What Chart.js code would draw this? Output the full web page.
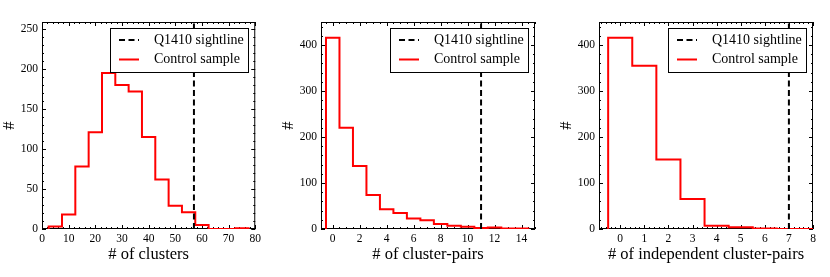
<!DOCTYPE html>
<html>
<head>
<meta charset="utf-8">
<script src="https://cdn.jsdelivr.net/npm/chart.js@4.4.1/dist/chart.umd.min.js"></script>
<style>
  body { margin: 0; background: #fff; }
  .wrap { position: relative; width: 830px; height: 277px; }
  .wrap canvas { position: absolute; top: 0; }
</style>
</head>
<body>
<div class="wrap">
  <canvas id="chart1" width="264" height="277" style="left:0px"></canvas>
  <canvas id="chart2" width="264" height="277" style="left:279px"></canvas>
  <canvas id="chart3" width="264" height="277" style="left:557px"></canvas>
</div>
<script>
// histogram bin edges and counts
const clusterEdges = [2.5, 7.5, 12.5, 17.5, 22.5, 27.5, 32.5, 37.5, 42.5, 47.5, 52.5, 57.5, 62.5, 67.5, 72.5, 77.5];
const clusterCounts = [3, 18, 78, 121, 195, 180, 172, 115, 62, 29, 21, 5, 0, 0, 1];

const pairEdges = [-0.5, 0.5, 1.5, 2.5, 3.5, 4.5, 5.5, 6.5, 7.5, 8.5, 9.5, 10.5, 11.5, 12.5, 13.5, 14.5];
const pairCounts = [416, 220, 137, 74, 43, 35, 23, 19, 11, 7, 5, 2, 3, 1, 1];

const indepEdges = [-0.5, 0.5, 1.5, 2.5, 3.5, 4.5, 5.5, 6.5, 7.5, 8.5];
const indepCounts = [416, 355, 151, 65, 7, 4, 1, 0, 0];

// Q1410 sightline values
const q1410Clusters = 57;
const q1410Pairs = 11;
const q1410Indep = 7;

const legendLabels = ['Q1410 sightline', 'Control sample'];

const serif = 'Liberation Serif';

// major ticks at every multiple of step inside [min, max]
function majorTicks(s, step) {
    const out = [];
    for (let k = Math.ceil(s.min / step - 1e-9); k * step <= s.max + 1e-9; k++) {
        out.push({value: Math.round(k * step * 1e6) / 1e6});
    }
    s.ticks = out;
}

// frame + inward ticks on all four sides, matplotlib style
const frameTicks = {
    id: 'frameTicks',
    beforeDatasetsDraw(chart, args, opts) {
        const ctx = chart.ctx;
        const a = chart.chartArea;
        const xs = chart.scales.x, ys = chart.scales.y;
        ctx.save();
        ctx.strokeStyle = '#000';
        ctx.lineWidth = 1;
        ctx.strokeRect(a.left + 0.5, a.top + 0.5, a.right - a.left - 1, a.bottom - a.top - 1);
        ctx.beginPath();
        const xStep = opts.xStep, yStep = opts.yStep;
        const xm = xStep / opts.xMinor, ym = yStep / opts.yMinor;
        for (let k = Math.ceil(xs.min / xm - 1e-9); k * xm <= xs.max + 1e-9; k++) {
            const v = k * xm;
            const p = Math.round(xs.getPixelForValue(v)) + 0.5;
            const len = (k % opts.xMinor === 0) ? 4 : 2;
            ctx.moveTo(p, a.bottom); ctx.lineTo(p, a.bottom - len);
            ctx.moveTo(p, a.top); ctx.lineTo(p, a.top + len);
        }
        for (let k = Math.ceil(ys.min / ym - 1e-9); k * ym <= ys.max + 1e-9; k++) {
            const v = k * ym;
            const p = Math.round(ys.getPixelForValue(v)) + 0.5;
            const len = (k % opts.yMinor === 0) ? 4 : 2;
            ctx.moveTo(a.left, p); ctx.lineTo(a.left + len, p);
            ctx.moveTo(a.right, p); ctx.lineTo(a.right - len, p);
        }
        ctx.stroke();
        ctx.restore();
    }
};

// boxed legend in the upper right of the plot
const boxLegend = {
    id: 'boxLegend',
    afterDraw(chart) {
        const ctx = chart.ctx;
        const a = chart.chartArea;
        const w = 138, h = 44;
        const x = Math.round(a.right - 7 - w), y = Math.round(a.top + 6);
        ctx.save();
        ctx.fillStyle = '#fff';
        ctx.fillRect(x, y, w, h);
        ctx.strokeStyle = '#000';
        ctx.lineWidth = 1;
        ctx.strokeRect(x + 0.5, y + 0.5, w, h);
        chart.data.datasets.forEach(function (ds, i) {
            const ly = y + 12 + i * 19.5;
            ctx.beginPath();
            ctx.strokeStyle = ds.borderColor;
            ctx.lineWidth = 2;
            ctx.setLineDash(ds.borderDash || []);
            ctx.moveTo(x + 9, ly);
            ctx.lineTo(x + 29, ly);
            ctx.stroke();
            ctx.setLineDash([]);
            ctx.fillStyle = '#000';
            ctx.font = '14px "' + serif + '"';
            ctx.textBaseline = 'middle';
            ctx.fillText(ds.label, x + 44, ly);
        });
        ctx.restore();
    }
};

function stepPoints(edges, counts) {
    const pts = [{x: edges[0], y: 0}];
    counts.forEach(function (c, i) { pts.push({x: edges[i], y: c}); });
    pts.push({x: edges[edges.length - 1], y: 0});
    return pts;
}

function show_hist(id, edges, counts, q, xMin, xMax, xStep, xMinor, yMax, yStep, xTitle) {
    const data = {
        datasets: [
            {
                label: legendLabels[0],
                data: [{x: q, y: 0}, {x: q, y: yMax}],
                borderColor: '#000',
                borderWidth: 2,
                borderDash: [6, 3.5],
                pointRadius: 0
            },
            {
                label: legendLabels[1],
                data: stepPoints(edges, counts),
                borderColor: 'rgb(255, 0, 0)',
                borderWidth: 2,
                stepped: 'before',
                pointRadius: 0
            }
        ]
    };

    const tickFont = {family: serif, size: 11.5};
    const titleFont = {family: serif, size: 16.5};

    const config = {
        type: 'line',
        data: data,
        options: {
            responsive: false,
            animation: false,
            devicePixelRatio: 1,
            layout: {
                padding: {left: 0, right: 8, top: 22, bottom: 12}
            },
            scales: {
                x: {
                    type: 'linear',
                    min: xMin,
                    max: xMax,
                    grid: {display: false, drawTicks: false},
                    border: {display: false},
                    afterFit: function (s) { s.height = 36; },
                    afterBuildTicks: function (s) { majorTicks(s, xStep); },
                    ticks: {
                        color: '#000',
                        font: tickFont,
                        padding: 3,
                        maxRotation: 0,
                        autoSkip: false
                    },
                    title: {
                        display: true,
                        text: xTitle,
                        color: '#000',
                        font: titleFont,
                        padding: 0
                    }
                },
                y: {
                    type: 'linear',
                    min: 0,
                    max: yMax,
                    grid: {display: false, drawTicks: false},
                    border: {display: false},
                    afterFit: function (s) { s.width = 42; },
                    afterBuildTicks: function (s) { majorTicks(s, yStep); },
                    ticks: {
                        color: '#000',
                        font: tickFont,
                        padding: 4,
                        autoSkip: false
                    },
                    title: {
                        display: true,
                        text: '#',
                        color: '#000',
                        font: titleFont,
                        padding: 0
                    }
                }
            },
            plugins: {
                legend: {display: false},
                tooltip: {enabled: false},
                frameTicks: {xStep: xStep, xMinor: xMinor, yStep: yStep, yMinor: 5}
            }
        },
        plugins: [frameTicks, boxLegend]
    };

    return new Chart(document.getElementById(id), config);
}

show_hist('chart1', clusterEdges, clusterCounts, q1410Clusters, 0, 80, 10, 5, 258.75, 50, '# of clusters');
show_hist('chart2', pairEdges, pairCounts, q1410Pairs, -0.87, 15, 2, 4, 450, 100, '# of cluster-pairs');
show_hist('chart3', indepEdges, indepCounts, q1410Indep, -0.88, 8, 1, 5, 450, 100, '# of independent cluster-pairs');
</script>
</body>
</html>
